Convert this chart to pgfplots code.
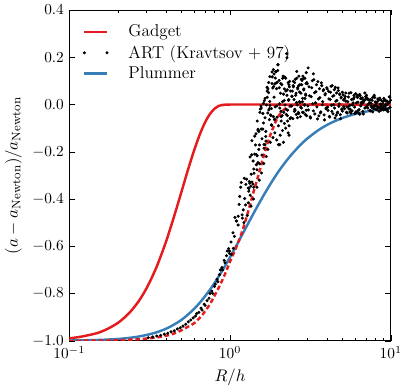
\documentclass[border=0pt]{standalone}
\usepackage{pgfplots}
\pgfplotsset{compat=1.18}

\definecolor{setred}{RGB}{228,26,28}
\definecolor{setblue}{RGB}{55,126,184}

\begin{document}
\begin{tikzpicture}
  \begin{axis}[
      scale only axis,
      width=210pt, height=216pt,
      xmode=log,
      xmin=0.1, xmax=10,
      ymin=-1.0, ymax=0.4,
      ytick={-1.0,-0.8,-0.6,-0.4,-0.2,0.0,0.2,0.4},
      yticklabel style={/pgf/number format/fixed,
        /pgf/number format/fixed zerofill,
        /pgf/number format/precision=1},
      xlabel={$R/h$},
      ylabel={$(a-a_{\rm Newton})/a_{\rm Newton}$},
      label style={font=\fontsize{10.8}{13}\selectfont},
      axis line style={line width=0.6pt},
      major tick length=3.5pt,
      minor tick length=2pt,
      tick style={black},
      legend style={at={(0.027,0.975)}, anchor=north west, draw=none,
        fill=none, row sep=0pt, font=\fontsize{11.2}{13.5}\selectfont},
      legend cell align=left,
      legend image code/.code={\draw[#1] (0cm,0cm) -- (0.52cm,0cm);},
    ]
    % Gadget spline kernel
    \addplot[setred, line width=1.6pt, smooth]
      coordinates {
      (0.1,-0.990) (0.12,-0.982) (0.15,-0.967) (0.175,-0.948) (0.2,-0.925)
      (0.225,-0.8965) (0.25,-0.863) (0.275,-0.825) (0.3,-0.782) (0.325,-0.735)
      (0.35,-0.686) (0.375,-0.633) (0.4,-0.580) (0.425,-0.525) (0.45,-0.471)
      (0.475,-0.418) (0.5,-0.367) (0.525,-0.318) (0.55,-0.272) (0.575,-0.230)
      (0.6,-0.191) (0.65,-0.125) (0.7,-0.075) (0.75,-0.040) (0.8,-0.018)
      (0.85,-0.006) (0.9,-0.0015) (0.95,-0.0002) (1.0,0) (2,0) (10,0)
    };
    \addlegendentry{\hspace{11pt}Gadget}

    % ART (Kravtsov + 97) measured points
    \addplot[only marks, mark=*, mark size=0.8pt, black,
      legend image code/.code={\fill[black] (0cm,0cm) circle (0.8pt);
        \fill[black] (0.52cm,0cm) circle (0.8pt);}]
      coordinates {
      (0.31,-0.987) (0.33,-0.984) (0.35,-0.980) (0.37,-0.977) (0.39,-0.972)
      (0.41,-0.968) (0.43,-0.962) (0.45,-0.958) (0.47,-0.950) (0.49,-0.945)
      (0.51,-0.938) (0.53,-0.930) (0.55,-0.920) (0.57,-0.912) (0.59,-0.903)
      (0.61,-0.895) (0.62,-0.885) (0.64,-0.880) (0.66,-0.862) (0.67,-0.870)
      (0.69,-0.845) (0.70,-0.850) (0.72,-0.830) (0.74,-0.820) (0.75,-0.800)
      (0.77,-0.790) (0.78,-0.800) (0.80,-0.770) (0.81,-0.760) (0.83,-0.740)
      (0.84,-0.750) (0.86,-0.720) (0.87,-0.700) (0.89,-0.690) (0.90,-0.700)
      (0.92,-0.660) (0.93,-0.670) (0.95,-0.640) (0.96,-0.620) (0.98,-0.610)
      (0.99,-0.630)
      (0.993,-0.620) (1.020,-0.634) (1.015,-0.582) (1.048,-0.609) (1.043,-0.543)
      (1.073,-0.478) (1.065,-0.558) (1.098,-0.493) (1.093,-0.493) (1.123,-0.510)
      (1.124,-0.473) (1.139,-0.423) (1.164,-0.350) (1.149,-0.389) (1.174,-0.330)
      (1.189,-0.467) (1.193,-0.481) (1.208,-0.446) (1.227,-0.312) (1.233,-0.398)
      (1.255,-0.338) (1.249,-0.425) (1.268,-0.316) (1.298,-0.353) (1.308,-0.367)
      (1.311,-0.356) (1.333,-0.222) (1.327,-0.333) (1.346,-0.346) (1.364,-0.213)
      (1.368,-0.153) (1.392,-0.239) (1.405,-0.350) (1.410,-0.291) (1.424,-0.134)
      (1.451,-0.124) (1.458,-0.212) (1.470,-0.276) (1.477,-0.070) (1.495,-0.109)
      (1.493,-0.246) (1.511,-0.114) (1.533,-0.033) (1.524,-0.171) (1.564,-0.015)
      (1.558,-0.006) (1.580,-0.145) (1.601,-0.038) (1.614,-0.078) (1.626,-0.169)
      (1.627,-0.185) (1.651,-0.056) (1.652,0.026) (1.670,-0.114) (1.674,-0.155)
      (1.701,0.073) (1.705,0.031) (1.717,-0.036) (1.739,0.093) (1.742,-0.023)
      (1.758,-0.017) (1.767,0.013) (1.768,0.118) (1.795,-0.047) (1.808,-0.017)
      (1.812,-0.086) (1.824,0.089) (1.831,0.117) (1.858,-0.051) (1.867,0.076)
      (1.880,0.031) (1.890,-0.064) (1.897,0.087) (1.908,-0.010) (1.927,0.139)
      (1.933,0.091) (1.952,-0.006) (1.961,-0.054) (1.983,0.144) (1.989,0.169)
      (1.300,-0.416) (1.318,-0.326) (1.335,-0.384) (1.353,-0.295) (1.370,-0.328)
      (1.388,-0.337) (1.405,-0.273) (1.423,-0.210) (1.440,-0.171) (1.458,-0.255)
      (1.475,-0.217) (1.493,-0.105) (1.510,-0.190) (1.528,-0.251) (1.545,-0.019)
      (1.563,-0.104) (1.580,-0.214) (1.598,-0.104) (1.615,0.005) (1.633,0.016)
      (1.650,-0.170) (1.668,-0.135) (1.685,-0.002) (1.703,0.057) (1.720,0.066)
      (1.738,0.050) (1.755,-0.064) (1.773,-0.004) (1.790,-0.044) (1.815,-0.088)
      (1.825,0.138) (1.843,0.070) (1.860,0.148) (1.878,0.129) (1.895,-0.062)
      (1.913,0.112) (1.930,0.139) (1.948,0.067) (1.965,0.094) (1.983,0.168)
      (1.90,-0.12) (1.95,-0.15) (2.00,-0.09) (2.05,-0.13) (2.08,-0.07)
      (2.12,-0.11) (2.15,-0.16) (2.18,-0.08) (2.22,-0.10) (2.28,-0.07)
      (2.33,-0.09) (1.85,-0.14) (1.78,-0.16) (1.72,-0.19) (1.68,-0.22)
      (1.62,-0.25) (1.57,-0.29) (1.52,-0.32) (1.47,-0.35) (1.40,-0.40)
      (1.35,-0.43) (1.28,-0.47) (1.22,-0.50) (2.00,-0.17) (2.33,-0.13)
      (2.02,0.102) (2.04,-0.015) (2.06,0.048) (2.08,-0.051) (2.10,0.084)
      (2.12,0.012) (2.14,0.120) (2.16,-0.033) (2.18,0.066) (2.20,-0.002)
      (2.22,0.111) (2.24,-0.042) (2.26,0.039) (2.28,-0.024) (2.30,0.093)
      (2.32,0.021) (2.34,0.075) (2.36,-0.060) (2.38,0.057) (2.40,-0.006)
      (2.42,-0.006) (2.44,0.057) (2.46,-0.060) (2.48,0.075) (2.50,0.021)
      (2.52,0.093) (2.54,-0.024) (2.56,0.039) (2.58,-0.042) (2.60,0.111)
      (2.62,-0.002) (2.64,0.066) (2.66,-0.033) (2.68,0.120) (2.70,0.012)
      (2.72,0.084) (2.74,-0.051) (2.76,0.048) (2.78,-0.015) (2.80,0.102)
      (2.82,0.012) (2.84,0.120) (2.86,-0.033) (2.88,0.066) (2.90,-0.002)
      (2.92,0.111) (2.94,-0.042) (2.96,0.039) (2.98,-0.024) (3.00,0.093)
      (2.03,0.003) (2.07,0.089) (2.11,-0.047) (2.15,0.044) (2.19,0.116)
      (2.23,-0.020) (2.27,0.062) (2.31,0.017) (2.35,0.098) (2.39,-0.056)
      (2.43,0.035) (2.47,0.080) (2.51,-0.029) (2.55,0.107) (2.59,0.008)
      (2.63,0.071) (2.67,-0.038) (2.71,0.053) (2.75,-0.011) (2.79,0.084)
      (2.83,0.026) (2.87,0.111) (2.91,-0.002) (2.95,0.044) (2.99,-0.047)
      (2.025,0.071) (2.075,-0.029) (2.125,0.111) (2.175,0.017) (2.225,0.057)
      (2.275,-0.047) (2.325,0.084) (2.375,-0.006) (2.425,0.035) (2.475,0.098)
      (2.525,-0.020) (2.575,0.048) (2.625,-0.056) (2.675,0.080) (2.725,0.008)
      (2.775,0.107) (2.825,-0.033) (2.875,0.062) (2.925,0.026) (2.975,0.089)
      (3.02,0.088) (3.07,-0.023) (3.12,0.037) (3.17,-0.057) (3.22,0.071)
      (3.27,0.003) (3.32,0.105) (3.37,-0.040) (3.42,0.054) (3.47,-0.010)
      (3.52,0.097) (3.57,-0.048) (3.62,0.029) (3.67,-0.031) (3.72,0.080)
      (3.77,0.012) (3.82,0.063) (3.87,-0.065) (3.92,0.046) (3.97,-0.014)
      (3.05,-0.006) (3.10,0.075) (3.15,-0.052) (3.20,0.033) (3.25,0.101)
      (3.30,-0.027) (3.35,0.050) (3.40,0.007) (3.45,0.084) (3.50,-0.061)
      (3.55,0.024) (3.60,0.067) (3.65,-0.035) (3.70,0.092) (3.75,-0.001)
      (3.80,0.058) (3.85,-0.044) (3.90,0.041) (3.95,-0.018) (4.00,0.071)
      (4.02,0.066) (4.07,-0.025) (4.12,0.024) (4.17,-0.053) (4.22,0.052)
      (4.27,-0.004) (4.32,0.080) (4.37,-0.039) (4.42,0.038) (4.47,-0.015)
      (4.52,0.073) (4.57,-0.046) (4.62,0.017) (4.67,-0.032) (4.72,0.059)
      (4.77,0.003) (4.82,0.045) (4.87,-0.060) (4.92,0.031) (4.97,-0.018)
      (4.05,-0.011) (4.10,0.056) (4.15,-0.050) (4.20,0.021) (4.25,0.077)
      (4.30,-0.029) (4.35,0.035) (4.40,-0.001) (4.45,0.063) (4.50,-0.057)
      (4.55,0.014) (4.60,0.049) (4.65,-0.036) (4.70,0.070) (4.75,-0.008)
      (4.80,0.042) (4.85,-0.043) (4.90,0.028) (4.95,-0.022) (5.00,0.052)
      (5.05,0.041) (5.15,-0.018) (5.25,0.014) (5.35,-0.036) (5.45,0.032)
      (5.55,-0.004) (5.65,0.050) (5.75,-0.027) (5.85,0.023) (5.95,-0.011)
      (6.05,0.046) (6.15,-0.031) (6.25,0.010) (6.35,-0.022) (6.45,0.037)
      (6.55,0.001) (6.65,0.028) (6.75,-0.040) (6.85,0.019) (6.95,-0.013)
      (5.10,-0.009) (5.20,0.034) (5.30,-0.033) (5.40,0.012) (5.50,0.048)
      (5.60,-0.020) (5.70,0.021) (5.80,-0.002) (5.90,0.039) (6.00,-0.038)
      (6.10,0.007) (6.20,0.030) (6.30,-0.024) (6.40,0.043) (6.50,-0.006)
      (6.60,0.025) (6.70,-0.029) (6.80,0.016) (6.90,-0.015) (7.00,0.032)
      (5.00,-0.028) (5.165,0.025) (5.33,-0.010) (5.495,-0.019) (5.66,-0.037)
      (5.825,0.007) (5.99,-0.037) (6.155,0.034) (6.32,-0.037) (6.485,0.025)
      (6.65,0.007) (6.815,0.016) (6.98,0.034) (7.145,0.026) (7.31,0.020)
      (7.475,0.020) (7.64,-0.014) (7.805,0.033) (7.97,-0.007) (8.135,0.006)
      (8.30,-0.014) (8.465,0.020) (8.63,0.000) (8.795,0.000) (8.96,0.013)
      (9.125,-0.007) (9.29,0.000) (9.455,-0.020) (9.62,0.006) (9.785,0.033)
      (5.08,0.019) (5.245,0.049) (5.41,-0.011) (5.575,-0.031) (5.74,-0.001)
      (5.905,0.029) (6.07,-0.031) (6.235,0.039) (6.40,-0.041) (6.565,0.009)
      (6.73,0.009) (6.895,0.049) (7.06,0.039) (7.225,0.000) (7.39,0.008)
      (7.555,-0.008) (7.72,-0.031) (7.885,0.039) (8.05,0.000) (8.215,-0.023)
      (8.38,0.023) (8.545,-0.015) (8.71,-0.008) (8.875,-0.015) (9.04,-0.023)
      (9.205,-0.015) (9.37,-0.023) (9.535,0.000) (9.70,0.008) (9.865,0.031)
      (7.05,0.024) (7.20,-0.015) (7.35,0.006) (7.50,-0.027) (7.65,0.018)
      (7.80,-0.006) (7.95,0.030) (8.10,-0.021) (8.25,0.012) (8.40,-0.011)
      (8.55,0.027) (8.70,-0.024) (8.85,0.003) (9.00,-0.018) (9.15,0.021)
      (9.30,-0.003) (9.45,0.015) (9.60,-0.030) (9.75,0.009) (9.90,-0.012)
      (7.10,-0.009) (7.25,0.020) (7.40,-0.026) (7.55,0.005) (7.70,0.029)
      (7.85,-0.017) (8.00,0.011) (8.15,-0.005) (8.30,0.023) (8.45,-0.029)
      (8.60,0.002) (8.75,0.017) (8.90,-0.020) (9.05,0.026) (9.20,-0.008)
      (9.35,0.014) (9.50,-0.023) (9.65,0.008) (9.80,-0.014) (9.95,0.018)
      (2.25,0.215) (2.26,0.198) (3.06,0.155) (2.98,0.135) (3.30,0.130)
      (2.04,-0.170) (2.30,-0.120) (1.93,0.140) (2.60,0.140)
    };
    \addlegendentry{\hspace{11pt}ART (Kravtsov + 97)}

    % Plummer softening
    \addplot[setblue, line width=1.6pt, smooth]
      coordinates {
      (0.1,-0.999) (0.15,-0.9967) (0.2,-0.9925) (0.25,-0.9857) (0.3,-0.976)
      (0.35,-0.964) (0.4,-0.949) (0.45,-0.931) (0.5,-0.911) (0.55,-0.888)
      (0.6,-0.864) (0.65,-0.838) (0.7,-0.811) (0.75,-0.784) (0.8,-0.756)
      (0.85,-0.728) (0.9,-0.701) (0.95,-0.673) (1.0,-0.646) (1.1,-0.595)
      (1.2,-0.5465) (1.3,-0.502) (1.4,-0.461) (1.5,-0.424) (1.6,-0.390)
      (1.7,-0.360) (1.8,-0.332) (2.0,-0.284) (2.25,-0.237) (2.5,-0.200)
      (2.75,-0.170) (3.0,-0.146) (3.5,-0.111) (4.0,-0.087) (4.5,-0.070)
      (5.0,-0.057) (6.0,-0.040) (7.0,-0.030) (8.0,-0.023) (9.0,-0.018)
      (10.0,-0.015)
    };
    \addlegendentry{\hspace{11pt}Plummer}

    % ART fit (dashed, no legend entry)
    \addplot[setred, line width=1.6pt, smooth, dash pattern=on 3pt off 1.8pt,
      forget plot]
      coordinates {
      (0.1,-1.0) (0.15,-0.9995) (0.2,-0.998) (0.25,-0.995) (0.3,-0.991)
      (0.35,-0.986) (0.4,-0.979) (0.45,-0.969) (0.5,-0.955) (0.55,-0.940)
      (0.6,-0.925) (0.65,-0.902) (0.7,-0.875) (0.75,-0.845) (0.8,-0.810)
      (0.85,-0.776) (0.9,-0.740) (0.95,-0.703) (1.0,-0.665) (1.05,-0.632)
      (1.1,-0.600) (1.15,-0.566) (1.2,-0.530) (1.25,-0.490) (1.3,-0.450)
      (1.35,-0.410) (1.4,-0.370) (1.45,-0.335) (1.5,-0.300) (1.55,-0.265)
      (1.6,-0.230) (1.65,-0.200) (1.7,-0.170) (1.75,-0.145) (1.8,-0.120)
      (1.85,-0.100) (1.9,-0.080) (1.95,-0.064) (2.0,-0.050) (2.1,-0.030)
      (2.2,-0.018) (2.3,-0.010) (2.4,-0.005) (2.5,-0.002) (2.6,0) (5,0) (10,0)
    };
  \end{axis}
\end{tikzpicture}
\end{document}
